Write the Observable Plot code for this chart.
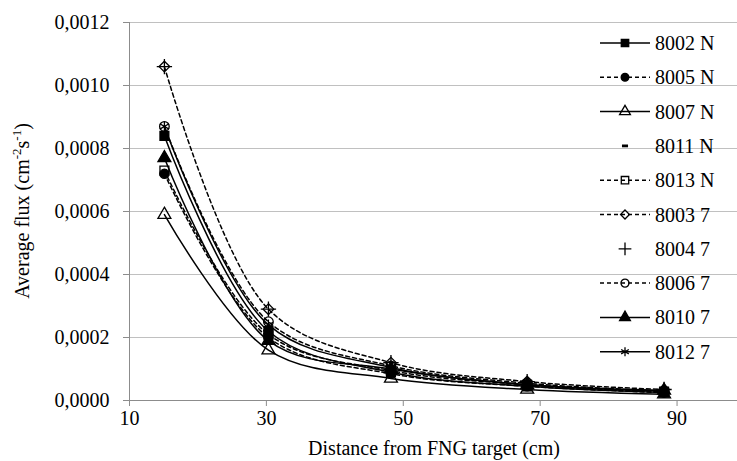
<!DOCTYPE html>
<html><head><meta charset="utf-8">
<script src="https://cdn.jsdelivr.net/npm/d3@7"></script>
<script src="https://cdn.jsdelivr.net/npm/@observablehq/plot@0.6"></script>
<style>body{margin:0;background:#fff} #chart{width:737px;height:461px;overflow:hidden}
#chart svg text{font-family:'Liberation Serif'}</style>
</head><body><div id="chart"></div>
<script>
// ---- data ----
const distances = [15.1, 30.3, 48.2, 68.1, 88.1];
const seriesNames = ["8002 N","8005 N","8007 N","8011 N","8013 N","8003 7","8004 7","8006 7","8010 7","8012 7"];
const flux8002N = [0.00084, 0.00022, 0.000090, 0.000045, 0.000025];
const flux8005N = [0.00072, 0.00020, 0.000085, 0.000045, 0.000025];
const flux8007N = [0.00059, 0.00016, 0.000070, 0.000035, 0.000020];
const flux8011N = [0.00084, 0.00022, 0.000090, 0.000045, 0.000025];
const flux8013N = [0.00073, 0.00021, 0.000095, 0.000050, 0.000028];
const flux80037 = [0.00106, 0.00029, 0.000120, 0.000060, 0.000035];
const flux80047 = [0.00106, 0.00029, 0.000120, 0.000060, 0.000035];
const flux80067 = [0.00087, 0.00025, 0.000110, 0.000055, 0.000030];
const flux80107 = [0.00077, 0.00019, 0.000100, 0.000050, 0.000032];
const flux80127 = [0.00087, 0.00024, 0.000105, 0.000050, 0.000030];
const seriesValues = [flux8002N, flux8005N, flux8007N, flux8011N, flux8013N, flux80037, flux80047, flux80067, flux80107, flux80127];
const xTicks = [10, 30, 50, 70, 90];
const yTicks = [0, 0.0002, 0.0004, 0.0006, 0.0008, 0.0010, 0.0012];

// ---- styles ----
const symbolDash = {draw(ctx, size) { const w = Math.sqrt(size) / 2.2; ctx.moveTo(-w, 0); ctx.lineTo(w, 0); }};
const styles = {
  "8002 N": {line: "solid",  symbol: "square",   fill: "black", stroke: "black", r: 5.0},
  "8005 N": {line: "dashed", symbol: "circle",   fill: "black", stroke: "black", r: 4.6},
  "8007 N": {line: "solid",  symbol: "triangle", fill: "none",  stroke: "black", r: 4.8},
  "8011 N": {line: null,     symbol: symbolDash, fill: "none",  stroke: "black", r: 4.5, sw: 2.8},
  "8013 N": {line: "dashed", symbol: "square",   fill: "none",  stroke: "black", r: 5.0},
  "8003 7": {line: "dashed", symbol: "diamond2", fill: "none",  stroke: "black", r: 4.8},
  "8004 7": {line: null,     symbol: "plus",     fill: "none",  stroke: "black", r: 5.0},
  "8006 7": {line: "dashed", symbol: "circle",   fill: "none",  stroke: "black", r: 4.8},
  "8010 7": {line: "solid",  symbol: "triangle", fill: "black", stroke: "black", r: 4.8},
  "8012 7": {line: "solid",  symbol: "asterisk", fill: "none",  stroke: "black", r: 5.0}
};

const rows = seriesNames.flatMap((s, i) => distances.map((d, j) => ({series: s, x: d, y: seriesValues[i][j]})));
const fmt = d => d.toFixed(4).replace(".", ",");
const font = "Liberation Serif";

const marks = [
  Plot.ruleY(yTicks.filter(d => d > 0), {stroke: "#c0c0c0", strokeWidth: 1}),
  Plot.ruleY([0], {stroke: "#8c8c8c", strokeWidth: 1}),
  Plot.ruleX([10], {stroke: "#8c8c8c", strokeWidth: 1})
];
seriesNames.forEach(s => {
  const st = styles[s];
  const data = rows.filter(r => r.series === s);
  if (st.line) marks.push(Plot.line(data, {x: "x", y: "y", curve: "catmull-rom", stroke: "black", strokeWidth: 1.5,
    strokeDasharray: st.line === "dashed" ? "4,3" : null}));
});
seriesNames.forEach(s => {
  const st = styles[s];
  const data = rows.filter(r => r.series === s);
  marks.push(Plot.dot(data, {x: "x", y: "y", symbol: st.symbol, r: st.r, fill: st.fill, stroke: st.stroke, strokeWidth: st.sw || 1.3}));
});

const chart = Plot.plot({
  width: 737, height: 461,
  marginLeft: 129, marginRight: -8, marginTop: 22, marginBottom: 61,
  style: {fontFamily: font, fontSize: "20px", background: "white", color: "black", overflow: "visible"},
  x: {domain: [10, 100], ticks: xTicks, tickFormat: d => String(d), tickSize: 6, tickPadding: 4, label: null},
  y: {domain: [0, 0.0012], ticks: yTicks, tickFormat: fmt, tickSize: 6, tickPadding: 14, label: null},
  marks
});
document.getElementById("chart").appendChild(chart);

const svg = d3.select(chart.tagName.toLowerCase() === "svg" ? chart : chart.querySelector("svg"));
svg.style("font-family", font);
svg.selectAll("text").attr("font-family", font);
// gray axis tick marks
svg.selectAll("[aria-label='x-axis'] line, [aria-label='y-axis'] line, [aria-label='x-axis tick'] path, [aria-label='y-axis tick'] path")
  .attr("stroke", "#8c8c8c");
svg.selectAll("[aria-label='x-axis'] path.domain, [aria-label='y-axis'] path.domain").remove();

// axis titles
svg.append("text").attr("x", 434).attr("y", 455).attr("text-anchor", "middle")
  .attr("font-family", font).attr("font-size", 20).attr("fill", "black")
  .text("Distance from FNG target (cm)");
const yt = svg.append("text").attr("transform", "translate(29,211) rotate(-90)").attr("text-anchor", "middle")
  .attr("font-family", font).attr("font-size", 20).attr("fill", "black");
yt.append("tspan").text("Average flux (cm");
yt.append("tspan").attr("dy", -8).attr("font-size", 13).text("-2");
yt.append("tspan").attr("dy", 8).text("s");
yt.append("tspan").attr("dy", -8).attr("font-size", 13).text("-1");
yt.append("tspan").attr("dy", 8).text(")");

// legend
const sym = name => ({square: d3.symbolSquare, circle: d3.symbolCircle, triangle: d3.symbolTriangle, diamond2: d3.symbolDiamond2,
  plus: d3.symbolPlus, asterisk: d3.symbolAsterisk})[name] || name;
const lg = svg.append("g").attr("text-anchor", "start");
seriesNames.forEach((s, i) => {
  const st = styles[s];
  const y = 43 + i * 34.3;
  if (st.line) lg.append("line").attr("x1", 600).attr("x2", 650).attr("y1", y).attr("y2", y)
    .attr("stroke", "black").attr("stroke-width", 1.5).attr("stroke-dasharray", st.line === "dashed" ? "4,3" : null);
  lg.append("path").attr("transform", `translate(625,${y})`)
    .attr("d", d3.symbol(sym(st.symbol), Math.PI * st.r * st.r * 0.7)())
    .attr("fill", st.fill === "none" ? "none" : st.fill).attr("stroke", st.stroke).attr("stroke-width", st.sw || 1.3);
  lg.append("text").attr("x", 655).attr("y", y).attr("dy", "0.35em").attr("text-anchor", "start")
    .attr("font-family", font).attr("font-size", 20).attr("fill", "black").text(s);
});
</script></body></html>
